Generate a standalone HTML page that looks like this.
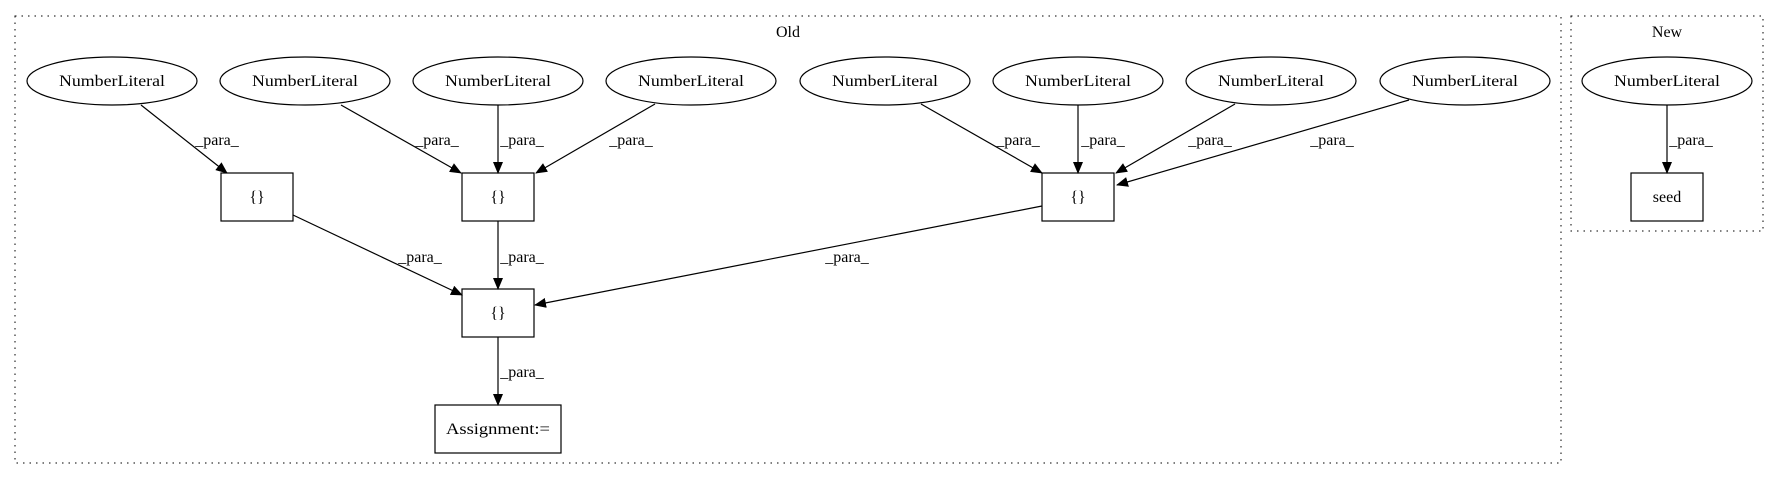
<!DOCTYPE html>
<html><head><meta charset="utf-8"><style>html,body{margin:0;padding:0;background:#fff}</style></head>
<body>
<svg width="1780" height="480" viewBox="0 0 1780 480" xmlns="http://www.w3.org/2000/svg" font-family="Liberation Serif, serif" font-size="16">
<defs>
<marker id="a" markerWidth="12" markerHeight="10" refX="11" refY="5" orient="auto" markerUnits="userSpaceOnUse">
<polygon points="0,0 12,5 0,10" fill="#000"/>
</marker>
</defs>
<rect x="15" y="16" width="1546" height="447" fill="none" stroke="#000" stroke-dasharray="1.5,5"/>
<rect x="1571" y="16" width="192" height="215" fill="none" stroke="#000" stroke-dasharray="1.5,5"/>
<text x="788" y="37" text-anchor="middle">Old</text>
<text x="1667" y="37" text-anchor="middle">New</text>
<g fill="none" stroke="#000" stroke-width="1.2">
<ellipse cx="112" cy="81" rx="85" ry="24"/>
<ellipse cx="305" cy="81" rx="85" ry="24"/>
<ellipse cx="498" cy="81" rx="85" ry="24"/>
<ellipse cx="691" cy="81" rx="85" ry="24"/>
<ellipse cx="885" cy="81" rx="85" ry="24"/>
<ellipse cx="1078" cy="81" rx="85" ry="24"/>
<ellipse cx="1271" cy="81" rx="85" ry="24"/>
<ellipse cx="1465" cy="81" rx="85" ry="24"/>
<ellipse cx="1667" cy="81" rx="85" ry="24"/>
<rect x="221" y="173" width="72" height="48"/>
<rect x="462" y="173" width="72" height="48"/>
<rect x="1042" y="173" width="72" height="48"/>
<rect x="462" y="289" width="72" height="48"/>
<rect x="435" y="405" width="126" height="48"/>
<rect x="1631" y="173" width="72" height="48"/>
</g>
<g stroke="#000" stroke-width="1.2" fill="none" marker-end="url(#a)">
<line x1="141" y1="105" x2="227" y2="173"/>
<line x1="341" y1="105" x2="461" y2="173"/>
<line x1="498" y1="105" x2="498" y2="173"/>
<line x1="655" y1="104" x2="536" y2="173"/>
<line x1="921" y1="104" x2="1042" y2="173"/>
<line x1="1078" y1="105" x2="1078" y2="173"/>
<line x1="1235" y1="104" x2="1116" y2="173"/>
<line x1="1409" y1="100" x2="1117" y2="185"/>
<line x1="293" y1="215" x2="462" y2="295"/>
<line x1="498" y1="221" x2="498" y2="289"/>
<line x1="1042" y1="206" x2="535" y2="305"/>
<line x1="498" y1="337" x2="498" y2="405"/>
<line x1="1667" y1="105" x2="1667" y2="173"/>
</g>
<g text-anchor="middle">
<text x="112" y="86" textLength="106" lengthAdjust="spacingAndGlyphs">NumberLiteral</text>
<text x="305" y="86" textLength="106" lengthAdjust="spacingAndGlyphs">NumberLiteral</text>
<text x="498" y="86" textLength="106" lengthAdjust="spacingAndGlyphs">NumberLiteral</text>
<text x="691" y="86" textLength="106" lengthAdjust="spacingAndGlyphs">NumberLiteral</text>
<text x="885" y="86" textLength="106" lengthAdjust="spacingAndGlyphs">NumberLiteral</text>
<text x="1078" y="86" textLength="106" lengthAdjust="spacingAndGlyphs">NumberLiteral</text>
<text x="1271" y="86" textLength="106" lengthAdjust="spacingAndGlyphs">NumberLiteral</text>
<text x="1465" y="86" textLength="106" lengthAdjust="spacingAndGlyphs">NumberLiteral</text>
<text x="1667" y="86" textLength="106" lengthAdjust="spacingAndGlyphs">NumberLiteral</text>
<text x="257" y="202">{}</text>
<text x="498" y="202">{}</text>
<text x="1078" y="202">{}</text>
<text x="498" y="318">{}</text>
<text x="498" y="434" textLength="104" lengthAdjust="spacingAndGlyphs">Assignment:=</text>
<text x="1667" y="202">seed</text>
<text x="217" y="145">_para_</text>
<text x="437" y="145">_para_</text>
<text x="522" y="145">_para_</text>
<text x="631" y="145">_para_</text>
<text x="1018" y="145">_para_</text>
<text x="1103" y="145">_para_</text>
<text x="1210" y="145">_para_</text>
<text x="1332" y="145">_para_</text>
<text x="420" y="262">_para_</text>
<text x="522" y="262">_para_</text>
<text x="847" y="262">_para_</text>
<text x="522" y="377">_para_</text>
<text x="1691" y="145">_para_</text>
</g>
</svg>
</body></html>
